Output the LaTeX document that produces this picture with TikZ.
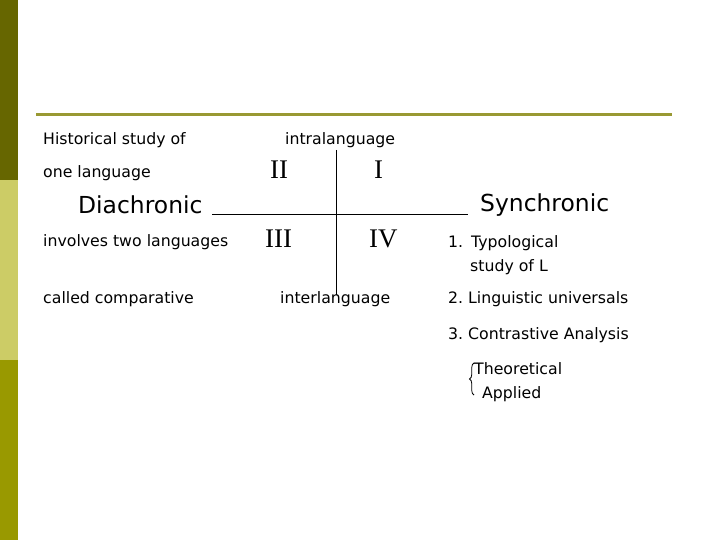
\documentclass[tikz,border=0pt]{standalone}
\usepackage{fontspec}
\setmainfont{DejaVu Sans}
\newfontfamily\romfont{Liberation Serif}
\usetikzlibrary{decorations.pathreplacing}
\definecolor{bardark}{RGB}{102,102,0}
\definecolor{barlight}{RGB}{204,204,102}
\definecolor{barmid}{RGB}{153,153,0}
\definecolor{rulecol}{RGB}{153,153,51}
\tikzset{
  txt/.style={anchor=west,inner sep=0pt,font=\fontsize{15.8}{17}\selectfont},
  big/.style={anchor=west,inner sep=0pt,font=\fontsize{23.5}{25}\selectfont},
  rom/.style={anchor=west,inner sep=0pt,font=\romfont\fontsize{27}{30}\selectfont},
}
\begin{document}
\begin{tikzpicture}[x=1bp,y=-1bp]
\useasboundingbox (0,0) rectangle (720,540);
\fill[white] (0,0) rectangle (720,540);
% left bar
\fill[bardark] (0,0) rectangle (18,180);
\fill[barlight] (0,180) rectangle (18,360);
\fill[barmid] (0,360) rectangle (18,540);
% top rule
\draw[rulecol,line width=3.2bp] (36,114.5) -- (672,114.5);
% left column
\node[txt] (hist) at (43,140) {Historical study of};
\node[txt] (one) at (43,173) {one language};
\node[txt] (inv) at (43,242) {involves two languages};
\node[txt] (comp) at (43,299) {called comparative};
% middle
\node[txt] (intra) at (285,140) {intralanguage};
\node[txt] (inter) at (280,299) {interlanguage};
\node[rom] (II) at (270,170) {II};
\node[rom] (I) at (374,170) {I};
\node[rom] (III) at (265,239) {III};
\node[rom] (IV) at (369,239) {IV};
\coordinate (vtop) at (336,150);
\coordinate (vbot) at (336,295);
\draw[black,line width=0.9bp] (vtop) -- (vbot);
\node[big] (dia) at (78,205) {Diachronic};
\node[big] (syn) at (480,205) {Synchronic};
\draw[black,line width=1bp] (212,215) -- (468,215);
% right column
\node[txt] (t1) at (448,243) {\makebox[23bp][l]{1.}Typological};
\node[txt] (t1b) at (470,267) {study of L};
\node[txt] (t2) at (448,299) {2.\ Linguistic universals};
\node[txt] (t3) at (448,335) {3.\ Contrastive Analysis};
\node[txt] (th) at (474,369) {Theoretical};
\node[txt] (ap) at (482,394) {Applied};
\coordinate (bt) at (474,363);
\coordinate (bb) at (474,395);
\draw[black,line width=0.8bp,decorate,decoration={brace,amplitude=4.5bp,mirror}] (bt) -- (bb);
\end{tikzpicture}
\end{document}
